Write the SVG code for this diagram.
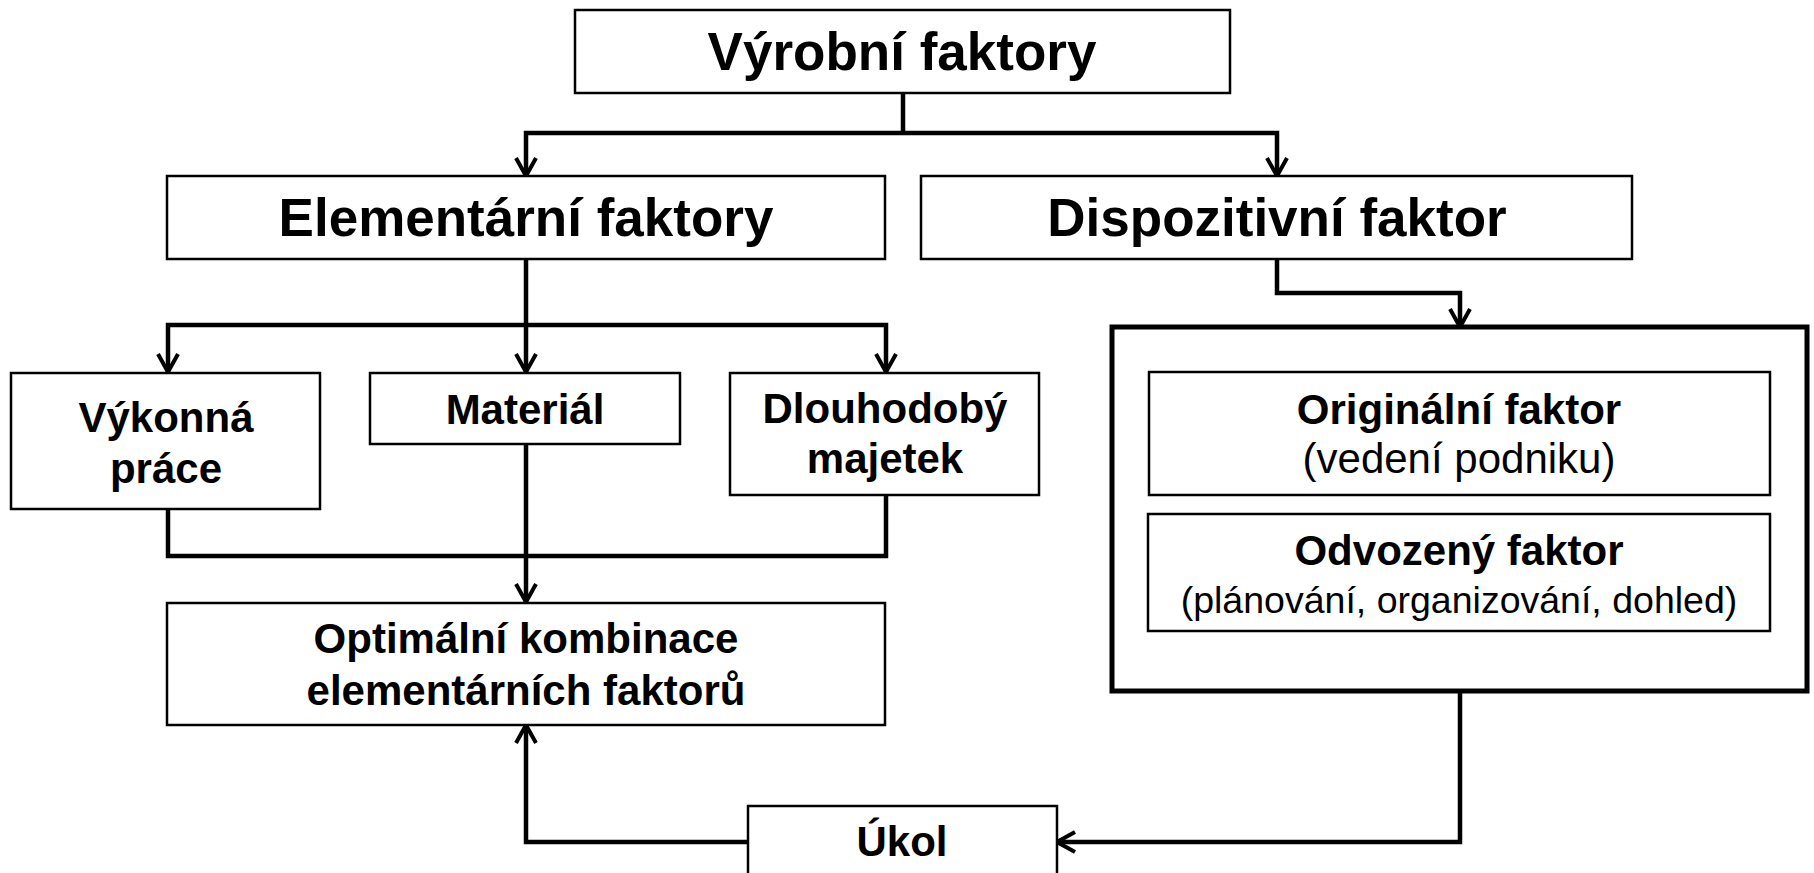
<svg xmlns="http://www.w3.org/2000/svg" width="1814" height="873" viewBox="0 0 1814 873">
<style>
.box{fill:#fff;stroke:#000;stroke-width:2.5}
.big{fill:#fff;stroke:#000;stroke-width:5}
.t{font-family:"Liberation Sans",Arial,sans-serif;text-anchor:middle;fill:#000}
.b53{font-size:53px;font-weight:bold}
.b42{font-size:42px;font-weight:bold}
.r42{font-size:42px}
.r37{font-size:37.5px}
.c{fill:none;stroke:#000;stroke-width:4.5;stroke-linejoin:miter}
</style>
<defs>
<marker id="ah" markerUnits="userSpaceOnUse" viewBox="-22 -13 24 26" refX="0" refY="0" markerWidth="24" markerHeight="26" orient="auto-start-reverse">
<path d="M-18,-10 L0,0 L-18,10" fill="none" stroke="#000" stroke-width="4"/>
</marker>
</defs>
<rect width="1814" height="873" fill="#fff"/>
<g id="connectors">
<path class="c" d="M903,93 V133"/>
<path class="c" d="M526,176 V133 H1277 V176" marker-start="url(#ah)" marker-end="url(#ah)"/>
<path class="c" d="M526,259 V372" marker-end="url(#ah)"/>
<path class="c" d="M168,372 V325 H886 V372" marker-start="url(#ah)" marker-end="url(#ah)"/>
<path class="c" d="M168,508 V556 H886 V495"/>
<path class="c" d="M526,444 V602" marker-end="url(#ah)"/>
<path class="c" d="M1277,259 V293 H1460 V327" marker-end="url(#ah)"/>
<path class="c" d="M1460,691 V842 H1057" marker-end="url(#ah)"/>
<path class="c" d="M748,842 H526 V725" marker-end="url(#ah)"/>
</g>
<g id="vyrobni">
<rect class="box" x="575" y="10" width="655" height="83"/>
<text class="t b53" x="902" y="70">Výrobní faktory</text>
</g>
<g id="elementarni">
<rect class="box" x="167" y="176" width="718" height="83"/>
<text class="t b53" x="526" y="236">Elementární faktory</text>
</g>
<g id="dispozitivni">
<rect class="box" x="921" y="176" width="711" height="83"/>
<text class="t b53" x="1277" y="236">Dispozitivní faktor</text>
</g>
<g id="vykonna">
<rect class="box" x="11" y="373" width="309" height="136"/>
<text class="t b42" x="166" y="432">Výkonná</text>
<text class="t b42" x="166" y="483">práce</text>
</g>
<g id="material">
<rect class="box" x="370" y="373" width="310" height="71"/>
<text class="t b42" x="525" y="424">Materiál</text>
</g>
<g id="dlouhodoby">
<rect class="box" x="730" y="373" width="309" height="122"/>
<text class="t b42" x="885" y="423">Dlouhodobý</text>
<text class="t b42" x="885" y="473">majetek</text>
</g>
<g id="optimalni">
<rect class="box" x="167" y="603" width="718" height="122"/>
<text class="t b42" x="526" y="653">Optimální kombinace</text>
<text class="t b42" x="526" y="705">elementárních faktorů</text>
</g>
<g id="dispozitivni-group">
<rect class="big" x="1112" y="327" width="695" height="364"/>
</g>
<g id="originalni">
<rect class="box" x="1149" y="372" width="621" height="123"/>
<text class="t b42" x="1459" y="424">Originální faktor</text>
<text class="t r42" x="1459" y="473">(vedení podniku)</text>
</g>
<g id="odvozeny">
<rect class="box" x="1148" y="514" width="622" height="117"/>
<text class="t b42" x="1459" y="565">Odvozený faktor</text>
<text class="t r37" x="1459" y="613">(plánování, organizování, dohled)</text>
</g>
<g id="ukol">
<rect class="box" x="748" y="806" width="309" height="80"/>
<text class="t b42" x="902" y="856">Úkol</text>
</g>
</svg>
